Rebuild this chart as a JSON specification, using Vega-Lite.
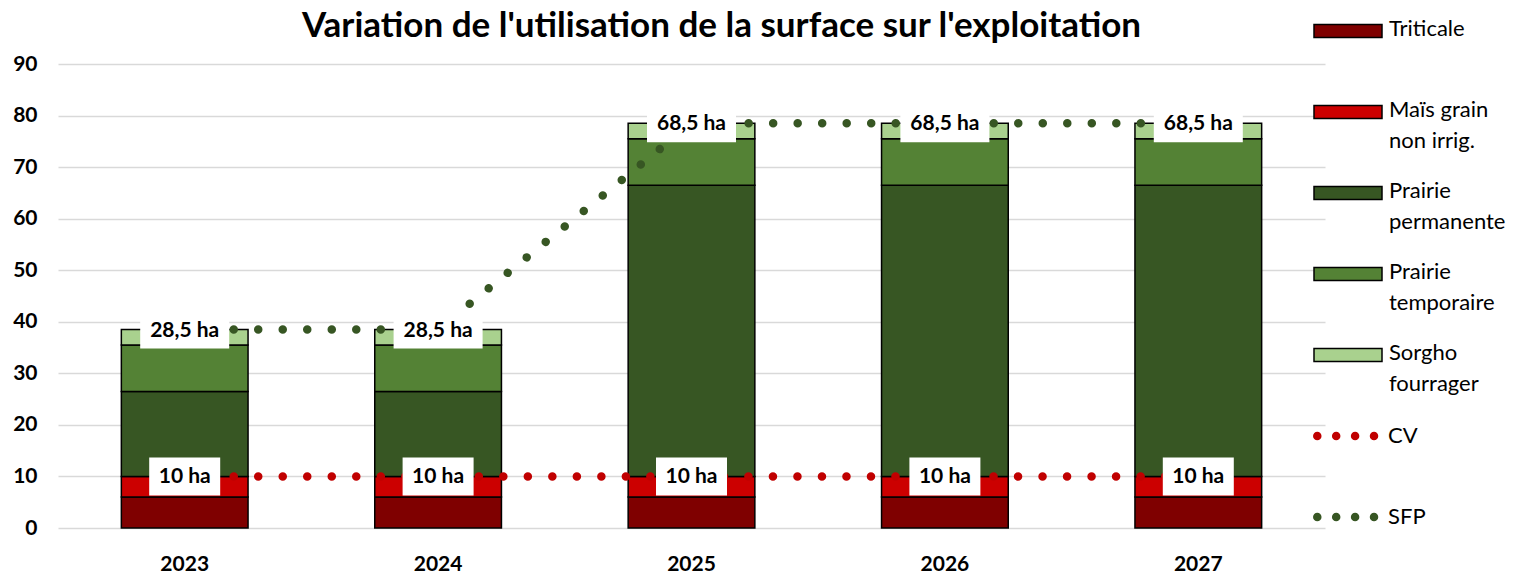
{
  "$schema": "https://vega.github.io/schema/vega-lite/v6.json",
  "width": 1267,
  "height": 464,
  "autosize": {"type": "none"},
  "padding": {"left": 58, "top": 64, "right": 198, "bottom": 46},
  "background": "white",
  "title": {
    "text": "Variation de l'utilisation de la surface sur l'exploitation",
    "font": "Lato",
    "fontSize": 35,
    "fontWeight": "bold",
    "color": "#000000",
    "anchor": "middle",
    "baseline": "alphabetic",
    "dx": 30,
    "offset": -76
  },
  "config": {
    "view": {"stroke": null},
    "font": "Lato"
  },
  "datasets": {
    "surfaces": [
      {"annee": "2023", "culture": "Triticale", "rang": 1, "ha": 6},
      {"annee": "2023", "culture": "Maïs grain non irrig.", "rang": 2, "ha": 4},
      {"annee": "2023", "culture": "Prairie permanente", "rang": 3, "ha": 16.5},
      {"annee": "2023", "culture": "Prairie temporaire", "rang": 4, "ha": 9},
      {"annee": "2023", "culture": "Sorgho fourrager", "rang": 5, "ha": 3},
      {"annee": "2024", "culture": "Triticale", "rang": 1, "ha": 6},
      {"annee": "2024", "culture": "Maïs grain non irrig.", "rang": 2, "ha": 4},
      {"annee": "2024", "culture": "Prairie permanente", "rang": 3, "ha": 16.5},
      {"annee": "2024", "culture": "Prairie temporaire", "rang": 4, "ha": 9},
      {"annee": "2024", "culture": "Sorgho fourrager", "rang": 5, "ha": 3},
      {"annee": "2025", "culture": "Triticale", "rang": 1, "ha": 6},
      {"annee": "2025", "culture": "Maïs grain non irrig.", "rang": 2, "ha": 4},
      {"annee": "2025", "culture": "Prairie permanente", "rang": 3, "ha": 56.5},
      {"annee": "2025", "culture": "Prairie temporaire", "rang": 4, "ha": 9},
      {"annee": "2025", "culture": "Sorgho fourrager", "rang": 5, "ha": 3},
      {"annee": "2026", "culture": "Triticale", "rang": 1, "ha": 6},
      {"annee": "2026", "culture": "Maïs grain non irrig.", "rang": 2, "ha": 4},
      {"annee": "2026", "culture": "Prairie permanente", "rang": 3, "ha": 56.5},
      {"annee": "2026", "culture": "Prairie temporaire", "rang": 4, "ha": 9},
      {"annee": "2026", "culture": "Sorgho fourrager", "rang": 5, "ha": 3},
      {"annee": "2027", "culture": "Triticale", "rang": 1, "ha": 6},
      {"annee": "2027", "culture": "Maïs grain non irrig.", "rang": 2, "ha": 4},
      {"annee": "2027", "culture": "Prairie permanente", "rang": 3, "ha": 56.5},
      {"annee": "2027", "culture": "Prairie temporaire", "rang": 4, "ha": 9},
      {"annee": "2027", "culture": "Sorgho fourrager", "rang": 5, "ha": 3}
    ],
    "lignes": [
      {"annee": "2023", "serie": "CV", "valeur": 10, "texte": "10 ha"},
      {"annee": "2024", "serie": "CV", "valeur": 10, "texte": "10 ha"},
      {"annee": "2025", "serie": "CV", "valeur": 10, "texte": "10 ha"},
      {"annee": "2026", "serie": "CV", "valeur": 10, "texte": "10 ha"},
      {"annee": "2027", "serie": "CV", "valeur": 10, "texte": "10 ha"},
      {"annee": "2023", "serie": "SFP", "valeur": 38.5, "texte": "28,5 ha"},
      {"annee": "2024", "serie": "SFP", "valeur": 38.5, "texte": "28,5 ha"},
      {"annee": "2025", "serie": "SFP", "valeur": 78.5, "texte": "68,5 ha"},
      {"annee": "2026", "serie": "SFP", "valeur": 78.5, "texte": "68,5 ha"},
      {"annee": "2027", "serie": "SFP", "valeur": 78.5, "texte": "68,5 ha"}
    ]
  },
  "encoding": {
    "x": {
      "field": "annee",
      "type": "nominal",
      "scale": {"paddingInner": 0.5, "paddingOuter": 0.25},
      "axis": {
        "title": null,
        "labelAngle": 0,
        "labelFont": "Lato",
        "labelFontSize": 21,
        "labelFontWeight": "bold",
        "labelColor": "#000000",
        "labelPadding": 25,
        "ticks": false,
        "domain": false,
        "grid": false
      }
    }
  },
  "layer": [
    {
      "data": {"name": "surfaces"},
      "mark": {"type": "bar", "stroke": "#000000", "strokeWidth": 1.5},
      "encoding": {
        "y": {
          "field": "ha",
          "type": "quantitative",
          "stack": "zero",
          "scale": {"domain": [0, 90]},
          "axis": {
            "title": null,
            "values": [0, 10, 20, 30, 40, 50, 60, 70, 80, 90],
            "labelFont": "Lato",
            "labelFontSize": 21,
            "labelFontWeight": "bold",
            "labelColor": "#000000",
            "labelPadding": 21,
            "ticks": false,
            "domain": false,
            "gridColor": "#D9D9D9",
            "gridWidth": 1.5
          }
        },
        "order": {"field": "rang", "type": "quantitative", "sort": "ascending"},
        "color": {
          "field": "culture",
          "type": "nominal",
          "sort": ["Triticale", "Maïs grain non irrig.", "Prairie permanente", "Prairie temporaire", "Sorgho fourrager"],
          "scale": {
            "domain": ["Triticale", "Maïs grain non irrig.", "Prairie permanente", "Prairie temporaire", "Sorgho fourrager"],
            "range": ["#7F0000", "#CC0000", "#375623", "#548235", "#A9D18E"]
          },
          "legend": {
            "orient": "none",
            "legendX": 1255,
            "legendY": -68,
            "title": null,
            "padding": 0,
            "symbolType": "M-1,-0.19H1V0.19H-1Z",
            "symbolSize": 4624,
            "symbolStrokeColor": "#000000",
            "symbolStrokeWidth": 1.5,
            "labelFont": "Lato",
            "labelFontSize": 22,
            "labelColor": "#000000",
            "labelOffset": 6,
            "labelLimit": 300,
            "labelBaseline": "top",
            "rowPadding": 6,
            "labelExpr": "datum.label == 'Triticale' ? ['Triticale', ' '] : datum.label == 'Maïs grain non irrig.' ? ['Maïs grain', 'non irrig.'] : datum.label == 'Prairie permanente' ? ['Prairie', 'permanente'] : datum.label == 'Prairie temporaire' ? ['Prairie', 'temporaire'] : datum.label == 'Sorgho fourrager' ? ['Sorgho', 'fourrager'] : datum.label",
            "encode": {
              "labels": {"update": {"lineHeight": {"value": 31}, "dy": {"value": -12}}}
            }
          }
        }
      }
    },
    {
      "data": {"name": "lignes"},
      "mark": {"type": "line", "strokeWidth": 8.5, "strokeCap": "round", "strokeDash": [0.01, 24.5]},
      "encoding": {
        "y": {"field": "valeur", "type": "quantitative"},
        "stroke": {
          "field": "serie",
          "type": "nominal",
          "scale": {"domain": ["CV", "SFP"], "range": ["#C00000", "#375623"]},
          "legend": {
            "orient": "none",
            "legendX": 1255,
            "legendY": 339,
            "title": null,
            "padding": 0,
            "symbolType": "stroke",
            "symbolSize": 3300,
            "symbolStrokeWidth": 8.5,
            "symbolDash": [0.01, 18.9],
            "labelFont": "Lato",
            "labelFontSize": 22,
            "labelColor": "#000000",
            "labelOffset": 9,
            "rowPadding": 31,
            "encode": {
              "symbols": {"update": {"strokeCap": {"value": "round"}}}
            }
          }
        }
      }
    },
    {
      "data": {"name": "lignes"},
      "transform": [{"filter": "datum.serie == 'SFP'"}],
      "mark": {"type": "point", "filled": true, "fill": "#FFFFFF", "opacity": 1, "strokeWidth": 0, "shape": "M-1,-0.427H1V0.427H-1Z", "size": 7921},
      "encoding": {
        "y": {"field": "valeur", "type": "quantitative"}
      }
    },
    {
      "data": {"name": "lignes"},
      "transform": [{"filter": "datum.serie == 'CV'"}],
      "mark": {"type": "point", "filled": true, "fill": "#FFFFFF", "opacity": 1, "strokeWidth": 0, "shape": "M-1,-0.535H1V0.535H-1Z", "size": 5041},
      "encoding": {
        "y": {"field": "valeur", "type": "quantitative"}
      }
    },
    {
      "data": {"name": "lignes"},
      "mark": {"type": "text", "font": "Lato", "fontSize": 21, "fontWeight": "bold", "color": "#000000", "baseline": "middle", "dy": 1},
      "encoding": {
        "y": {"field": "valeur", "type": "quantitative"},
        "text": {"field": "texte"}
      }
    }
  ]
}
